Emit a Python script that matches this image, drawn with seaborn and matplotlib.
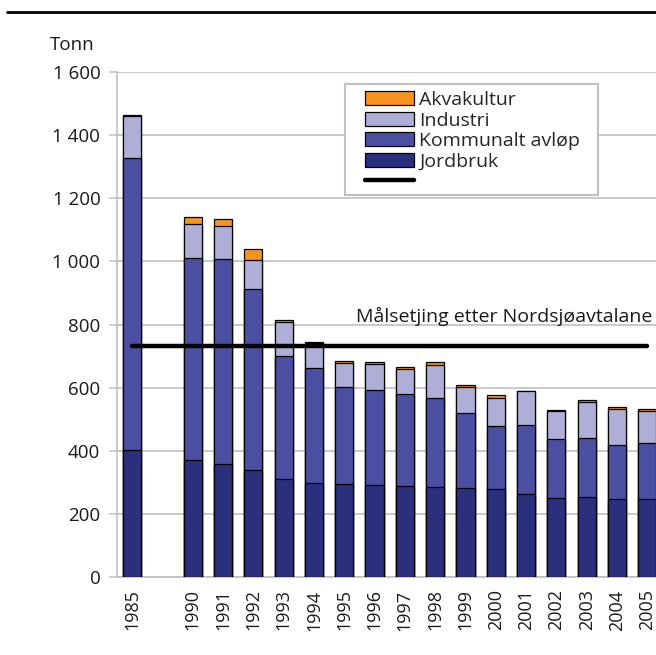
import matplotlib
matplotlib.use("Agg")
import matplotlib.pyplot as plt
from matplotlib.lines import Line2D
from matplotlib.patches import Patch, Rectangle
import seaborn as sns
import pandas as pd
import numpy as np

years = ["1985", "1990", "1991", "1992", "1993", "1994", "1995", "1996", "1997",
         "1998", "1999", "2000", "2001", "2002", "2003", "2004", "2005"]
jordbruk = [401, 370, 359, 338, 310, 297, 294, 291, 289, 285, 281, 278, 264, 250, 253, 248, 247]
kommunalt = [926, 640, 649, 574, 390, 364, 307, 301, 290, 281, 239, 199, 217, 188, 188, 170, 177]
industri = [134, 108, 104, 91, 108, 81, 78, 82, 79, 105, 82, 89, 107, 88, 113, 113, 101]
akvakultur = [3, 24, 21, 35, 6, 1, 5, 6, 8, 9, 6, 10, 1, 3, 8, 7, 7]
maal = 733
order = ["1985", " "] + years[1:]

colors = {"Akvakultur": "#F7941D", "Industri": "#AEAED6",
          "Kommunalt avløp": "#4B4FA1", "Jordbruk": "#2B2F7E"}
grid_c = "#C0C0C0"
txt_c = "#1a1a1a"

df = pd.DataFrame({"year": years, "Jordbruk": jordbruk, "Kommunalt avløp": kommunalt,
                   "Industri": industri, "Akvakultur": akvakultur})
# cumulative heights, drawn top layer first
df["c_Jordbruk"] = df["Jordbruk"]
df["c_Kommunalt avløp"] = df["c_Jordbruk"] + df["Kommunalt avløp"]
df["c_Industri"] = df["c_Kommunalt avløp"] + df["Industri"]
df["c_Akvakultur"] = df["c_Industri"] + df["Akvakultur"]

sns.set_style("white")
plt.rcParams["font.family"] = ["Open Sans", "DejaVu Sans"]
plt.rcParams["font.size"] = 13.5

fig = plt.figure(figsize=(6.56, 6.55), dpi=100)
ax = fig.add_axes([117 / 656, 78 / 655, 545.4 / 656, 505 / 655])

for col in ["Akvakultur", "Industri", "Kommunalt avløp", "Jordbruk"]:
    sns.barplot(data=df, x="year", y="c_" + col, order=order, color=colors[col],
                saturation=1, width=0.6, edgecolor="black", linewidth=0.9,
                errorbar=None, ax=ax, zorder=3)

n = len(order)
ax.plot([0, n - 1], [maal, maal], color="black", lw=3.2, solid_capstyle="round", zorder=5)
ax.text(17.18, 808, "Målsetjing etter Nordsjøavtalane", ha="right", va="baseline",
        fontsize=14, color=txt_c, zorder=6)

ax.set_xlim(-0.5, n - 0.5)
ax.set_ylim(0, 1600)
ax.set_yticks(np.arange(0, 1601, 200))
ax.set_yticklabels([f"{v:,}".replace(",", " ") for v in range(0, 1601, 200)])
ax.set_xticks(np.arange(-0.5, n, 1))
ax.set_xticklabels([])
ax.set_xticks(np.arange(n), minor=True)
ax.set_xticklabels(order, minor=True, rotation=90)
ax.tick_params(axis="x", which="major", length=6, width=1.1, color=grid_c, direction="out")
ax.tick_params(axis="x", which="minor", length=0, pad=9, labelsize=13, labelcolor=txt_c)
ax.tick_params(axis="y", length=6, width=1.1, color=grid_c, pad=6, labelsize=13.5,
               labelcolor=txt_c, left=True)
ax.set_xlabel("")
ax.set_ylabel("")
ax.yaxis.grid(True, color=grid_c, lw=1.2, zorder=0)
ax.set_axisbelow(True)
for s in ["top", "right"]:
    ax.spines[s].set_visible(False)
for s in ["left", "bottom"]:
    ax.spines[s].set_color(grid_c)
    ax.spines[s].set_linewidth(1.2)

# legend frame drawn separately (wider side padding than matplotlib gives)
fig.add_artist(Rectangle((345 / 656, 1 - 195 / 655), 253 / 656, 111 / 655,
                         transform=fig.transFigure, facecolor="white",
                         edgecolor=grid_c, lw=1.5, zorder=6))
handles = [Patch(facecolor=colors[k], edgecolor="black", lw=0.9)
           for k in ["Akvakultur", "Industri", "Kommunalt avløp", "Jordbruk"]]
handles.append(Line2D([0], [0], color="black", lw=3.2, solid_capstyle="round"))
labels = ["Akvakultur", "Industri", "Kommunalt avløp", "Jordbruk", ""]
leg = fig.legend(handles, labels, loc="upper left",
                 bbox_to_anchor=(365 / 656, 1 - 91 / 655),
                 borderaxespad=0, borderpad=0, frameon=False, fontsize=14,
                 handlelength=2.5, handleheight=0.75, handletextpad=0.28,
                 labelspacing=0.13)
leg.set_zorder(7)

fig.text(50 / 656, 1 - 45 / 655, "Tonn", ha="left", va="center", fontsize=13.5, color=txt_c)
fig.add_artist(Line2D([7 / 656, 1], [1 - 12 / 655, 1 - 12 / 655], color="black", lw=2))

fig.savefig("out.png", dpi=100)
